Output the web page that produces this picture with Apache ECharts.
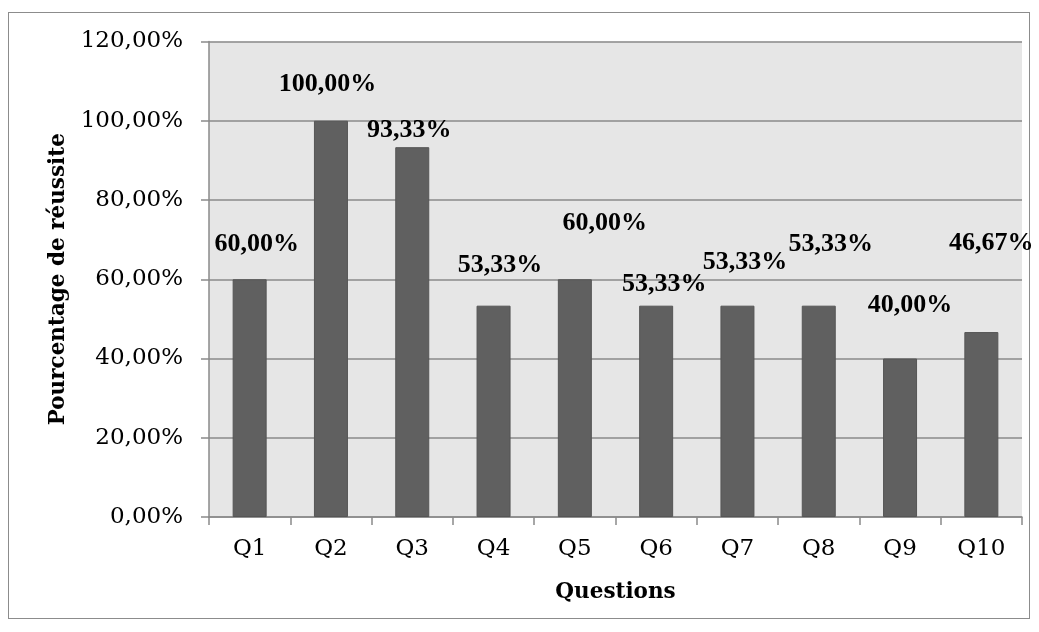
<!DOCTYPE html>
<html>
<head>
<meta charset="utf-8">
<script src="https://cdn.jsdelivr.net/npm/echarts@6/dist/echarts.min.js"></script>
<style>
html,body{margin:0;padding:0;background:#fff;}
#frame{position:absolute;left:8px;top:12px;width:1022px;height:607px;border:1.5px solid #8c8c8c;box-sizing:border-box;}
#chart{position:absolute;left:0;top:0;width:1039px;height:632px;}
</style>
</head>
<body>
<div id="frame"></div>
<div id="chart"></div>
<script>
// Data
const categories = ['Q1','Q2','Q3','Q4','Q5','Q6','Q7','Q8','Q9','Q10'];
const successRate = [60.00, 100.00, 93.33, 53.33, 60.00, 53.33, 53.33, 53.33, 40.00, 46.67];
const yTicks = [0, 20, 40, 60, 80, 100, 120];

// Style: manual label nudges (px) as placed in the original
const labelNudge = [[7,35],[-3.5,36],[-3,17],[6.5,40.5],[30,56],[8,21.5],[7.5,43],[12,61.5],[10,53],[10,89]];

function fmt(v){ return v.toFixed(2).replace('.', ',') + '%'; }

const chart = echarts.init(document.getElementById('chart'), null, {renderer:'canvas'});
chart.setOption({
  animation:false,
  grid:{left:209, right:17, top:41.5, bottom:115, show:true, backgroundColor:'#e6e6e6', borderWidth:0},
  xAxis:{
    type:'category', data:categories,
    name:'Questions', nameLocation:'middle', nameGap:64,
    nameTextStyle:{fontFamily:'DejaVu Serif', fontWeight:'bold', fontSize:21.5, color:'#000'},
    axisLine:{lineStyle:{color:'#8a8a8a', width:1.5}},
    axisTick:{show:true, length:8, alignWithLabel:false, lineStyle:{color:'#8a8a8a', width:1.5}},
    axisLabel:{fontFamily:'DejaVu Serif', fontSize:23, color:'#000', margin:21}
  },
  yAxis:{
    type:'value', min:yTicks[0], max:yTicks[yTicks.length-1], interval:20,
    name:'Pourcentage de réussite', nameLocation:'middle', nameGap:137, nameRotate:90,
    nameTextStyle:{fontFamily:'DejaVu Serif', fontWeight:'bold', fontSize:21.5, color:'#000'},
    axisLine:{show:true, lineStyle:{color:'#8a8a8a', width:1.5}},
    axisTick:{show:true, length:8, lineStyle:{color:'#8a8a8a', width:1.5}},
    splitLine:{show:true, lineStyle:{color:'#8a8a8a', width:1.5}},
    axisLabel:{fontFamily:'DejaVu Serif', fontSize:23, color:'#000', margin:26,
      formatter:function(v){ return fmt(v); }}
  },
  series:[{
    type:'bar',
    data:successRate.map(function(v,i){
      return {value:v, label:{offset:[labelNudge[i][0], -labelNudge[i][1]]}};
    }),
    barWidth:34,
    itemStyle:{color:'#606060', borderColor:'#555555', borderWidth:1},
    label:{show:true, position:'top', distance:0, verticalAlign:'middle',
      fontFamily:'Liberation Serif', fontWeight:'bold', fontSize:26, color:'#000',
      formatter:function(p){ return fmt(p.value); }}
  }]
});
</script>
</body>
</html>
